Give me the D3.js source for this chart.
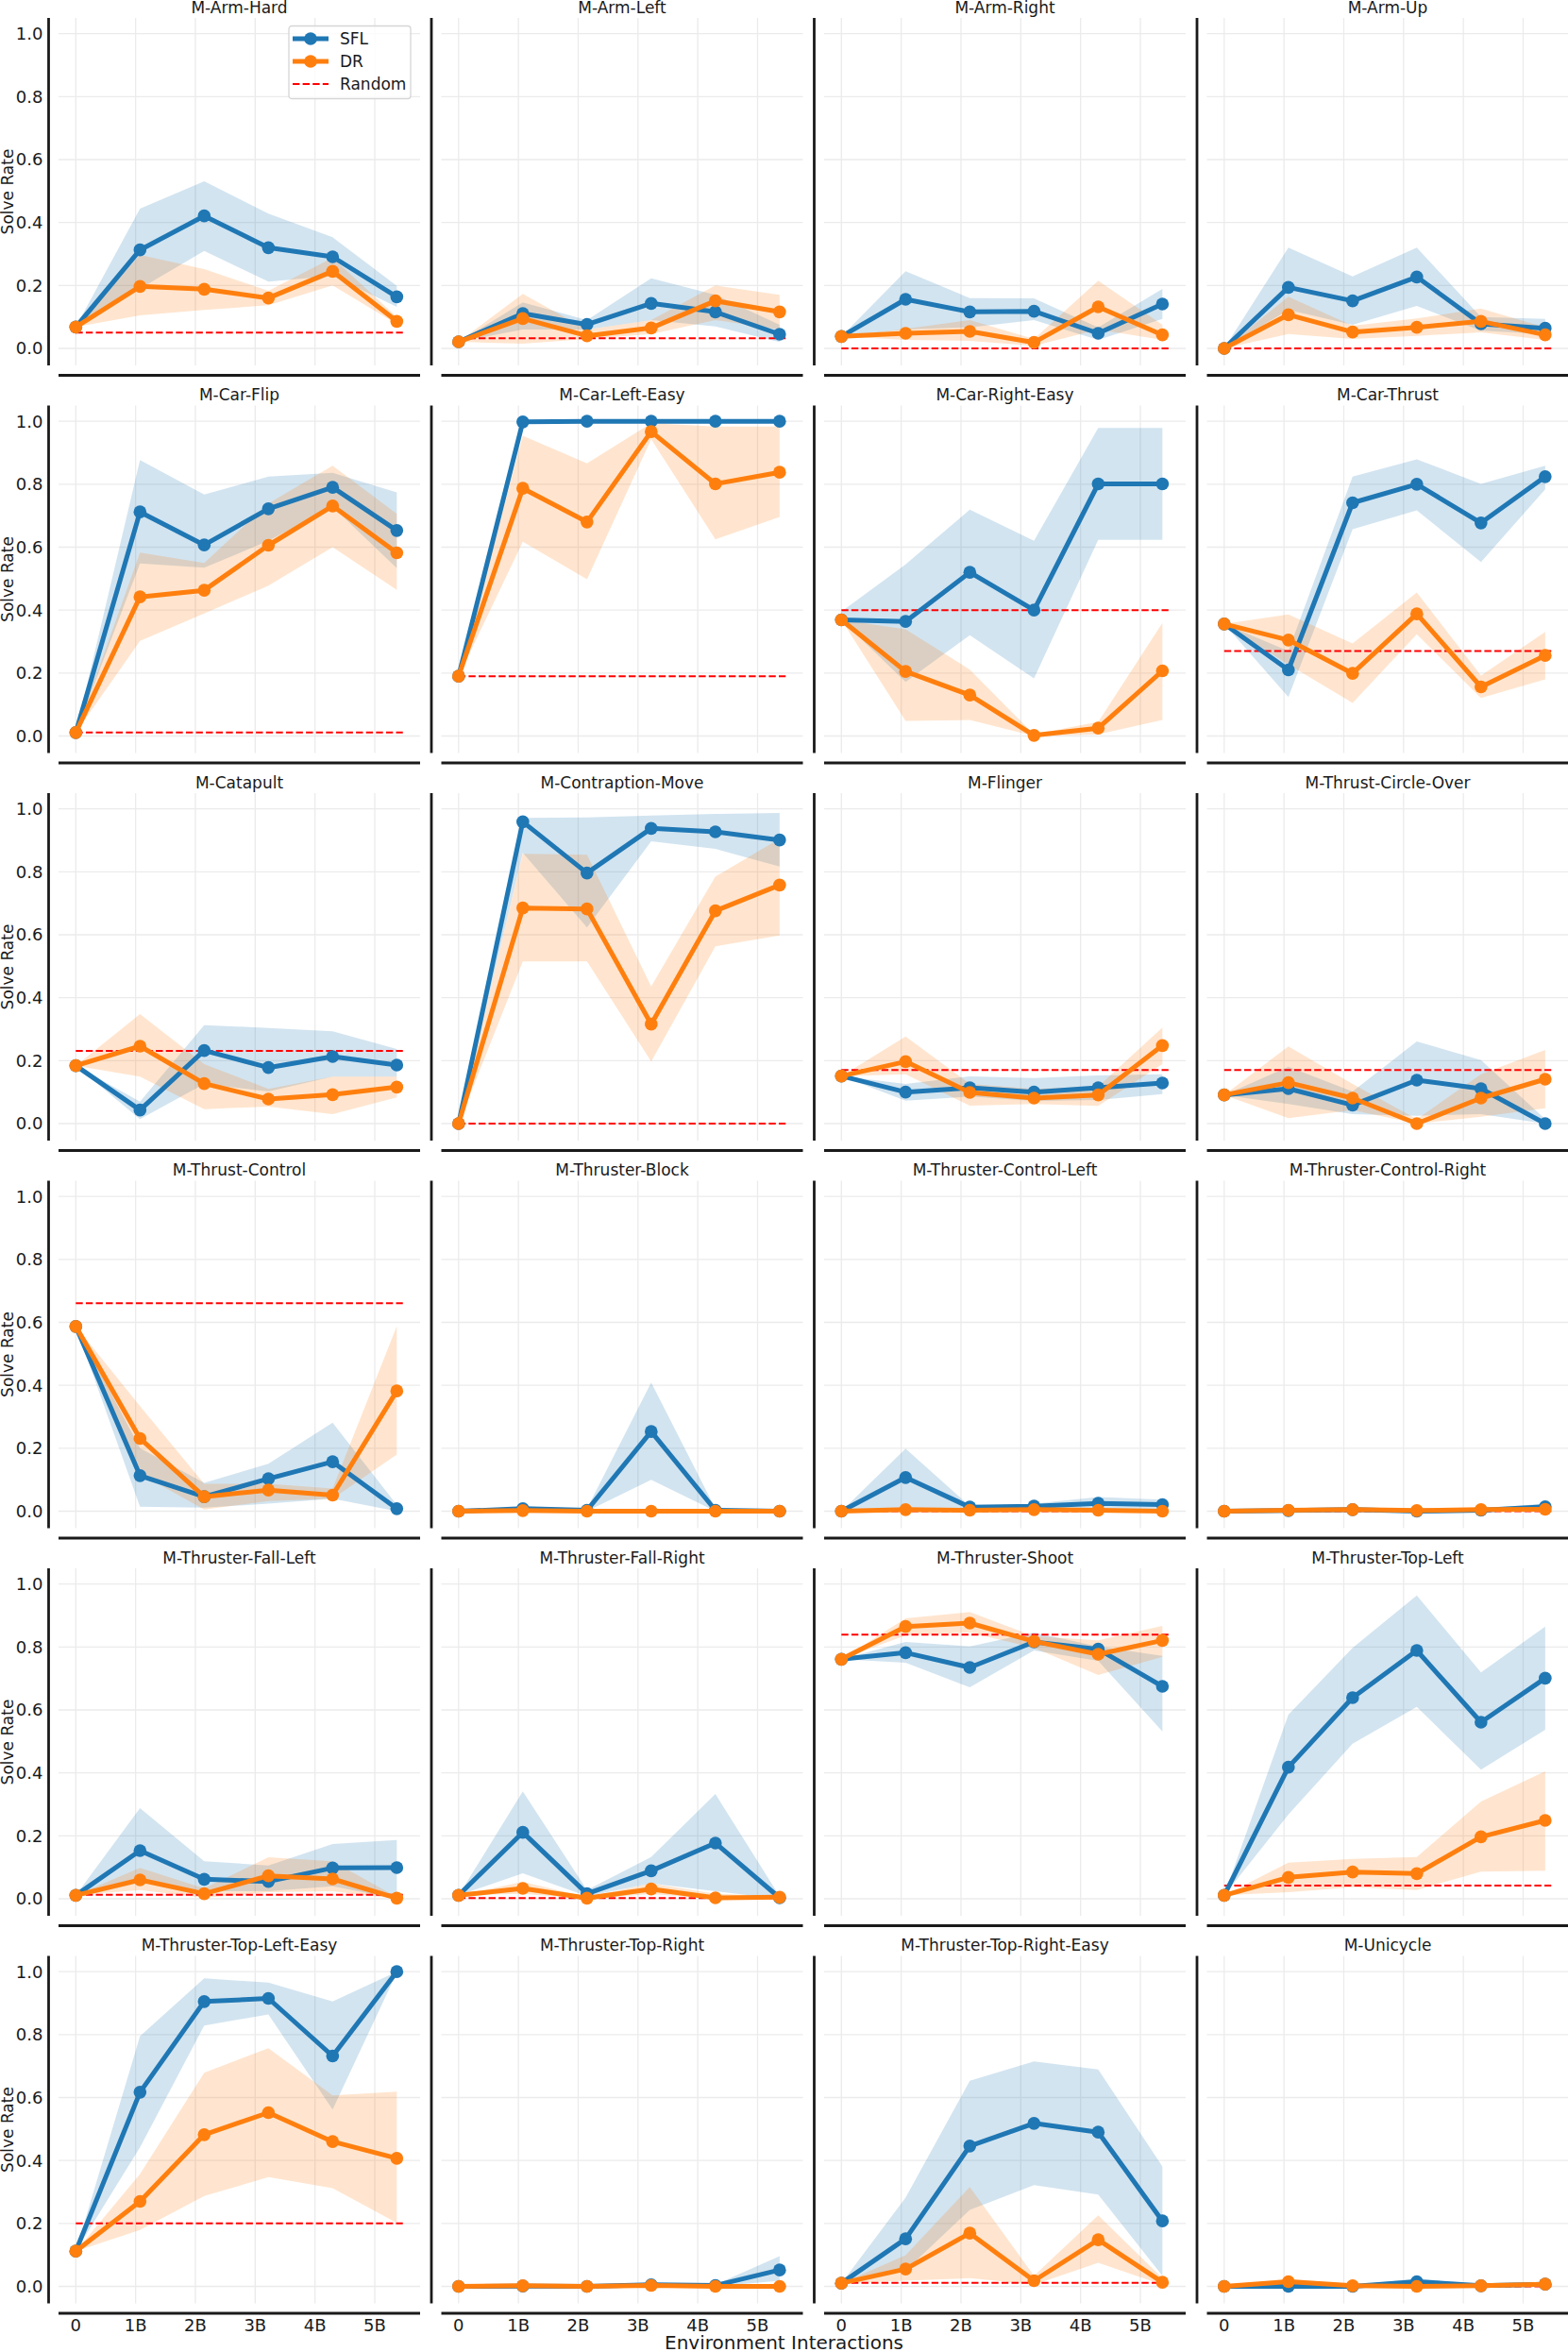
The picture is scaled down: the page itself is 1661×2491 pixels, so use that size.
<!DOCTYPE html>
<html>
<head>
<meta charset="utf-8">
<script src="https://cdn.jsdelivr.net/npm/d3@7"></script>
<style>
  body { margin: 0; background: #fff; }
  text { font-family: "DejaVu Sans", sans-serif; fill: #1a1a1a; }
</style>
</head>
<body>
<script>
"use strict";

let width = 1661;
let height = 2491;

// environments, row by row
const envNames = ["M-Arm-Hard", "M-Arm-Left", "M-Arm-Right", "M-Arm-Up",
  "M-Car-Flip", "M-Car-Left-Easy", "M-Car-Right-Easy", "M-Car-Thrust",
  "M-Catapult", "M-Contraption-Move", "M-Flinger", "M-Thrust-Circle-Over",
  "M-Thrust-Control", "M-Thruster-Block", "M-Thruster-Control-Left", "M-Thruster-Control-Right",
  "M-Thruster-Fall-Left", "M-Thruster-Fall-Right", "M-Thruster-Shoot", "M-Thruster-Top-Left",
  "M-Thruster-Top-Left-Easy", "M-Thruster-Top-Right", "M-Thruster-Top-Right-Easy", "M-Unicycle"];

// environment interactions at each evaluation
const interactions = [0, 1073741824, 2147483648, 3221225472, 4294967296, 5368709120];

const xTicks = [0, 1e9, 2e9, 3e9, 4e9, 5e9];
const xTickLabels = ["0", "1B", "2B", "3B", "4B", "5B"];
const yTicks = [0, 0.2, 0.4, 0.6, 0.8, 1.0];
const randomSpan = [0, 5.47e9];

const sflMean = [
  [0.068, 0.313, 0.421, 0.32, 0.291, 0.164],
  [0.021, 0.111, 0.076, 0.143, 0.116, 0.045],
  [0.038, 0.156, 0.116, 0.118, 0.048, 0.141],
  [0.0, 0.194, 0.151, 0.227, 0.078, 0.064],
  [0.011, 0.712, 0.607, 0.722, 0.79, 0.653],
  [0.19, 0.998, 1.0, 1.0, 1.0, 1.0],
  [0.369, 0.364, 0.52, 0.4, 0.801, 0.801],
  [0.356, 0.21, 0.741, 0.8, 0.677, 0.824],
  [0.184, 0.043, 0.232, 0.178, 0.213, 0.186],
  [0.0, 0.959, 0.796, 0.938, 0.927, 0.901],
  [0.151, 0.1, 0.114, 0.1, 0.114, 0.129],
  [0.091, 0.111, 0.059, 0.138, 0.111, 0.0],
  [0.587, 0.113, 0.046, 0.103, 0.157, 0.008],
  [0.0, 0.008, 0.003, 0.253, 0.003, 0.0],
  [0.0, 0.107, 0.013, 0.016, 0.025, 0.021],
  [0.0, 0.002, 0.005, 0.0, 0.003, 0.014],
  [0.011, 0.153, 0.062, 0.055, 0.098, 0.099],
  [0.011, 0.211, 0.016, 0.089, 0.177, 0.003],
  [0.761, 0.782, 0.735, 0.816, 0.793, 0.675],
  [0.011, 0.418, 0.639, 0.789, 0.561, 0.701],
  [0.112, 0.617, 0.905, 0.915, 0.732, 1.0],
  [0.0, 0.001, 0.0, 0.005, 0.003, 0.052],
  [0.01, 0.151, 0.446, 0.518, 0.49, 0.208],
  [0.0, 0.0, 0.0, 0.015, 0.002, 0.007]
];

const sflLow = [
  [0.068, 0.19, 0.31, 0.212, 0.23, 0.132],
  [0.021, 0.06, 0.06, 0.09, 0.07, 0.02],
  [0.038, 0.06, 0.067, 0.09, 0.027, 0.094],
  [0.0, 0.122, 0.075, 0.135, 0.056, 0.046],
  [0.011, 0.548, 0.535, 0.62, 0.728, 0.533],
  [0.19, 0.995, 1.0, 1.0, 1.0, 1.0],
  [0.369, 0.172, 0.32, 0.183, 0.623, 0.623],
  [0.356, 0.124, 0.657, 0.717, 0.553, 0.784],
  [0.184, 0.014, 0.126, 0.102, 0.149, 0.149],
  [0.0, 0.86, 0.623, 0.897, 0.873, 0.817],
  [0.151, 0.073, 0.086, 0.072, 0.075, 0.094],
  [0.091, 0.062, 0.03, 0.025, 0.03, 0.0],
  [0.587, 0.014, 0.011, 0.024, 0.04, 0.0],
  [0.0, 0.0, 0.0, 0.1, 0.0, 0.0],
  [0.0, 0.008, 0.003, 0.008, 0.008, 0.005],
  [0.0, 0.0, 0.0, 0.0, 0.0, 0.005],
  [0.011, 0.06, 0.024, 0.024, 0.04, 0.0],
  [0.011, 0.081, 0.008, 0.049, 0.024, 0.0],
  [0.761, 0.75, 0.672, 0.789, 0.756, 0.532],
  [0.011, 0.268, 0.493, 0.61, 0.41, 0.537],
  [0.112, 0.442, 0.829, 0.864, 0.562, 0.997],
  [0.0, 0.0, 0.0, 0.0, 0.0, 0.018],
  [0.01, 0.05, 0.243, 0.322, 0.292, 0.034],
  [0.0, 0.0, 0.0, 0.003, 0.0, 0.003]
];

const sflHigh = [
  [0.068, 0.444, 0.531, 0.428, 0.353, 0.199],
  [0.021, 0.146, 0.09, 0.223, 0.17, 0.075],
  [0.038, 0.245, 0.16, 0.159, 0.067, 0.189],
  [0.0, 0.32, 0.229, 0.32, 0.1, 0.094],
  [0.011, 0.877, 0.767, 0.824, 0.836, 0.774],
  [0.19, 1.0, 1.0, 1.0, 1.0, 1.0],
  [0.395, 0.545, 0.719, 0.62, 0.979, 0.979],
  [0.356, 0.27, 0.824, 0.879, 0.801, 0.859],
  [0.184, 0.07, 0.313, 0.304, 0.293, 0.237],
  [0.0, 0.971, 0.973, 0.979, 0.984, 0.987],
  [0.151, 0.126, 0.15, 0.145, 0.153, 0.157],
  [0.091, 0.181, 0.102, 0.261, 0.202, 0.014],
  [0.587, 0.2, 0.09, 0.151, 0.281, 0.02],
  [0.0, 0.015, 0.008, 0.409, 0.008, 0.0],
  [0.0, 0.199, 0.016, 0.024, 0.045, 0.037],
  [0.0, 0.005, 0.01, 0.003, 0.008, 0.024],
  [0.011, 0.288, 0.119, 0.106, 0.174, 0.187],
  [0.011, 0.341, 0.028, 0.133, 0.333, 0.008],
  [0.761, 0.816, 0.802, 0.846, 0.802, 0.772],
  [0.011, 0.585, 0.797, 0.964, 0.719, 0.865],
  [0.112, 0.795, 0.979, 0.965, 0.905, 1.0],
  [0.0, 0.003, 0.002, 0.012, 0.006, 0.096],
  [0.01, 0.282, 0.653, 0.715, 0.689, 0.381],
  [0.0, 0.004, 0.004, 0.025, 0.006, 0.012]
];

const drMean = [
  [0.068, 0.197, 0.188, 0.16, 0.245, 0.086],
  [0.021, 0.095, 0.04, 0.065, 0.151, 0.116],
  [0.038, 0.048, 0.054, 0.019, 0.132, 0.043],
  [0.0, 0.107, 0.052, 0.067, 0.086, 0.043],
  [0.011, 0.442, 0.463, 0.606, 0.731, 0.582],
  [0.19, 0.787, 0.68, 0.967, 0.801, 0.838],
  [0.369, 0.205, 0.13, 0.002, 0.025, 0.207],
  [0.356, 0.305, 0.199, 0.388, 0.156, 0.256],
  [0.184, 0.246, 0.127, 0.078, 0.092, 0.116],
  [0.0, 0.685, 0.682, 0.316, 0.676, 0.758],
  [0.151, 0.197, 0.099, 0.081, 0.091, 0.248],
  [0.091, 0.13, 0.081, 0.0, 0.081, 0.141],
  [0.587, 0.231, 0.046, 0.067, 0.051, 0.382],
  [0.0, 0.002, 0.0, 0.0, 0.0, 0.0],
  [0.0, 0.005, 0.003, 0.005, 0.003, 0.0],
  [0.0, 0.003, 0.005, 0.002, 0.005, 0.006],
  [0.011, 0.06, 0.016, 0.073, 0.063, 0.002],
  [0.011, 0.033, 0.002, 0.031, 0.003, 0.005],
  [0.761, 0.865, 0.876, 0.818, 0.777, 0.821],
  [0.011, 0.068, 0.085, 0.08, 0.197, 0.249],
  [0.112, 0.27, 0.482, 0.552, 0.46, 0.407],
  [0.0, 0.002, 0.0, 0.003, 0.0, 0.0],
  [0.01, 0.055, 0.169, 0.018, 0.148, 0.013],
  [0.0, 0.015, 0.002, 0.0, 0.002, 0.007]
];

const drLow = [
  [0.068, 0.105, 0.122, 0.137, 0.2, 0.077],
  [0.021, 0.015, 0.03, 0.046, 0.09, 0.06],
  [0.038, 0.027, 0.024, 0.008, 0.06, 0.027],
  [0.0, 0.046, 0.03, 0.04, 0.051, 0.027],
  [0.011, 0.302, 0.389, 0.478, 0.6, 0.464],
  [0.19, 0.617, 0.498, 0.943, 0.625, 0.696],
  [0.369, 0.048, 0.051, 0.0, 0.005, 0.051],
  [0.356, 0.227, 0.105, 0.323, 0.121, 0.18],
  [0.184, 0.149, 0.046, 0.054, 0.03, 0.083],
  [0.0, 0.515, 0.515, 0.197, 0.563, 0.598],
  [0.151, 0.157, 0.057, 0.062, 0.056, 0.189],
  [0.091, 0.017, 0.043, 0.0, 0.022, 0.049],
  [0.587, 0.119, 0.005, 0.032, 0.04, 0.18],
  [0.0, 0.0, 0.0, 0.0, 0.0, 0.0],
  [0.0, 0.0, 0.0, 0.0, 0.0, 0.0],
  [0.0, 0.0, 0.0, 0.0, 0.0, 0.0],
  [0.011, 0.028, 0.003, 0.021, 0.024, 0.0],
  [0.011, 0.016, 0.0, 0.015, 0.0, 0.002],
  [0.761, 0.837, 0.846, 0.797, 0.711, 0.769],
  [0.011, 0.021, 0.037, 0.028, 0.086, 0.089],
  [0.112, 0.179, 0.287, 0.347, 0.312, 0.202],
  [0.0, 0.0, 0.0, 0.0, 0.0, 0.0],
  [0.01, 0.018, 0.026, 0.005, 0.075, 0.005],
  [0.0, 0.005, 0.0, 0.0, 0.0, 0.002]
];

const drHigh = [
  [0.068, 0.297, 0.252, 0.183, 0.288, 0.1],
  [0.021, 0.173, 0.06, 0.09, 0.2, 0.17],
  [0.038, 0.062, 0.09, 0.03, 0.215, 0.075],
  [0.0, 0.164, 0.072, 0.095, 0.127, 0.067],
  [0.011, 0.583, 0.55, 0.739, 0.859, 0.706],
  [0.19, 0.954, 0.866, 0.994, 0.983, 0.983],
  [0.369, 0.339, 0.211, 0.005, 0.045, 0.359],
  [0.356, 0.386, 0.294, 0.456, 0.192, 0.331],
  [0.184, 0.348, 0.189, 0.11, 0.149, 0.149],
  [0.0, 0.857, 0.854, 0.436, 0.785, 0.905],
  [0.151, 0.277, 0.126, 0.11, 0.118, 0.305],
  [0.091, 0.245, 0.126, 0.014, 0.157, 0.234],
  [0.587, 0.334, 0.087, 0.087, 0.072, 0.588],
  [0.0, 0.005, 0.002, 0.002, 0.002, 0.002],
  [0.0, 0.01, 0.006, 0.01, 0.006, 0.002],
  [0.0, 0.006, 0.01, 0.005, 0.01, 0.012],
  [0.011, 0.098, 0.033, 0.132, 0.119, 0.005],
  [0.011, 0.054, 0.005, 0.049, 0.016, 0.008],
  [0.761, 0.891, 0.911, 0.834, 0.821, 0.867],
  [0.011, 0.115, 0.127, 0.133, 0.309, 0.405],
  [0.112, 0.357, 0.679, 0.757, 0.607, 0.619],
  [0.0, 0.004, 0.002, 0.006, 0.002, 0.002],
  [0.01, 0.099, 0.316, 0.034, 0.226, 0.026],
  [0.0, 0.025, 0.006, 0.003, 0.005, 0.012]
];

const randomRate = [0.05, 0.032, 0.0, 0.0, 0.011, 0.19, 0.4, 0.27, 0.231, 0.0, 0.17, 0.17,
  0.661, 0.0, 0.0, 0.0, 0.013, 0.002, 0.839, 0.042, 0.2, 0.0, 0.011, 0.0];

const seriesNames = ["SFL", "DR", "Random"];
const seriesColors = ["#1f77b4", "#ff7f0e", "#ff0000"];

// layout
let nCols = 4;
let axW = 383, axH = 368;
let left0 = 62, top0 = 19;
let colStep = 405.5, rowStep = 410.5;
let spineOff = 10.5;

let svg = d3.select("body").append("svg").attr("width", width).attr("height", height);

let x = d3.scaleLinear().domain([-0.289e9, 5.758e9]).range([0, axW]);
let y = d3.scaleLinear().domain([-0.054, 1.05]).range([axH, 0]);

let line = d3.line().x((d, i) => x(interactions[i])).y(d => y(d));
let area = (lo, hi) => d3.area()
  .x((d, i) => x(interactions[i]))
  .y0((d, i) => y(lo[i]))
  .y1((d, i) => y(hi[i]))(lo);

let nRows = Math.ceil(envNames.length / nCols);

envNames.forEach(function (name, k) {
  let col = k % nCols, row = Math.floor(k / nCols);
  let g = svg.append("g")
    .attr("transform", "translate(" + (left0 + col * colStep) + "," + (top0 + row * rowStep) + ")");

  // grid
  g.selectAll(".vgrid").data(xTicks).enter().append("line")
    .attr("x1", d => x(d)).attr("x2", d => x(d))
    .attr("y1", 0).attr("y2", axH)
    .attr("stroke", "#ebebeb").attr("stroke-width", 1.3);
  g.selectAll(".hgrid").data(yTicks).enter().append("line")
    .attr("x1", 0).attr("x2", axW)
    .attr("y1", d => y(d)).attr("y2", d => y(d))
    .attr("stroke", "#ebebeb").attr("stroke-width", 1.3);

  // bands
  g.append("path").attr("d", area(sflLow[k], sflHigh[k]))
    .attr("fill", seriesColors[0]).attr("fill-opacity", 0.2);
  g.append("path").attr("d", area(drLow[k], drHigh[k]))
    .attr("fill", seriesColors[1]).attr("fill-opacity", 0.2);

  // random baseline
  g.append("line")
    .attr("x1", x(randomSpan[0])).attr("x2", x(randomSpan[1]))
    .attr("y1", y(randomRate[k])).attr("y2", y(randomRate[k]))
    .attr("stroke", seriesColors[2]).attr("stroke-width", 2)
    .attr("stroke-dasharray", "7.4,3.2");

  // mean lines
  [sflMean[k], drMean[k]].forEach(function (vals, s) {
    g.append("path").attr("d", line(vals))
      .attr("fill", "none").attr("stroke", seriesColors[s])
      .attr("stroke-width", 5).attr("stroke-linejoin", "round");
    g.selectAll(".pt" + s).data(vals).enter().append("circle")
      .attr("cx", (d, i) => x(interactions[i]))
      .attr("cy", d => y(d))
      .attr("r", 6.8)
      .attr("fill", seriesColors[s]);
  });

  // spines (offset like seaborn despine)
  g.append("line")
    .attr("x1", -spineOff).attr("x2", -spineOff)
    .attr("y1", 0).attr("y2", axH)
    .attr("stroke", "#1a1a1a").attr("stroke-width", 2.8);
  g.append("line")
    .attr("x1", 0).attr("x2", axW)
    .attr("y1", axH + spineOff).attr("y2", axH + spineOff)
    .attr("stroke", "#1a1a1a").attr("stroke-width", 2.8);

  // title
  g.append("text")
    .attr("x", axW / 2).attr("y", -5.5)
    .attr("text-anchor", "middle")
    .style("font-size", "17px")
    .text(name);

  if (col === 0) {
    g.selectAll(".ytick").data(yTicks).enter().append("text")
      .attr("x", -spineOff - 6).attr("y", d => y(d))
      .attr("dy", "0.36em")
      .attr("text-anchor", "end")
      .style("font-size", "18px")
      .text(d => d3.format(".1f")(d));
    g.append("text")
      .attr("transform", "translate(" + (14 - left0) + "," + (axH / 2) + ") rotate(-90)")
      .attr("text-anchor", "middle")
      .style("font-size", "17px")
      .text("Solve Rate");
  }

  if (row === nRows - 1) {
    g.selectAll(".xtick").data(xTicks).enter().append("text")
      .attr("x", d => x(d)).attr("y", axH + spineOff + 19)
      .attr("text-anchor", "middle")
      .style("font-size", "18px")
      .text((d, i) => xTickLabels[i]);
  }

  if (k === 0) {
    let leg = g.append("g").attr("transform", "translate(244,8.5)");
    leg.append("rect")
      .attr("width", 129).attr("height", 77)
      .attr("rx", 3)
      .attr("fill", "#fff").attr("fill-opacity", 0.8)
      .attr("stroke", "#d6d6d6").attr("stroke-width", 1.3);
    seriesNames.forEach(function (s, i) {
      let ly = 13.5 + i * 24;
      let item = leg.append("g").attr("transform", "translate(0," + ly + ")");
      if (i < 2) {
        item.append("line").attr("x1", 4).attr("x2", 42).attr("y1", 0).attr("y2", 0)
          .attr("stroke", seriesColors[i]).attr("stroke-width", 5);
        item.append("circle").attr("cx", 23).attr("cy", 0).attr("r", 6.8).attr("fill", seriesColors[i]);
      } else {
        item.append("line").attr("x1", 4).attr("x2", 42).attr("y1", 0).attr("y2", 0)
          .attr("stroke", seriesColors[i]).attr("stroke-width", 2)
          .attr("stroke-dasharray", "7.4,3.2");
      }
      item.append("text").attr("x", 54).attr("y", 0).attr("dy", "0.36em")
        .style("font-size", "17px").text(s);
    });
  }
});

svg.append("text")
  .attr("x", width / 2).attr("y", 2487.5)
  .attr("text-anchor", "middle")
  .style("font-size", "20px")
  .text("Environment Interactions");
</script>
</body>
</html>
